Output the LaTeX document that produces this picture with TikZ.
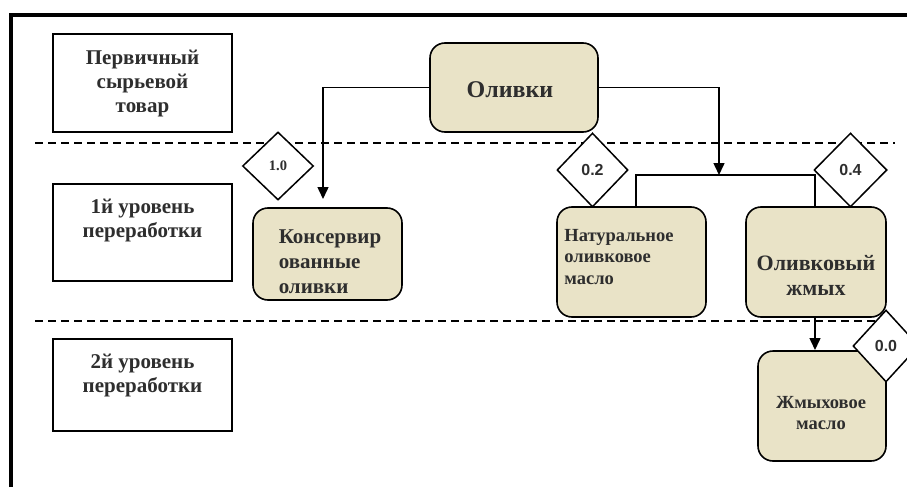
\documentclass[tikz,border=0pt]{standalone}
\usepackage{fontspec}
\setmainfont{Liberation Serif}
\newfontfamily\arialf{Liberation Sans}
\usetikzlibrary{shapes.geometric,arrows.meta}
\definecolor{beige}{HTML}{E9E3C7}
\definecolor{txt}{HTML}{2E2E2E}
\tikzset{
  lblbox/.style={draw=black, line width=1.5pt, fill=white, inner sep=0pt},
  prodbox/.style={draw=black, line width=1.6pt, fill=beige, rounded corners=15pt, inner sep=0pt},
  lbltext/.style={text=txt, font=\bfseries\fontsize{21}{24}\selectfont, align=center, inner sep=0pt},
  dia/.style={draw=black, line width=1.5pt, fill=white, shape=diamond, inner sep=0pt},
  conn/.style={draw=black, line width=1.5pt},
  arr/.style={conn, -{Triangle[width=11pt,length=12pt]}},
  sep/.style={draw=black, line width=2pt, dash pattern=on 8pt off 5pt},
}
\begin{document}
\begin{tikzpicture}[x=1pt,y=-1pt]
\useasboundingbox (0,0) rectangle (907,487);
% outer frame
\draw[line width=4pt] (11,487) -- (11,15) -- (907,15);
% separators
\draw[sep] (35,143) -- (895,143);
\draw[sep] (35,321) -- (880,321);
% level label boxes
\node[lblbox, minimum width=179pt, minimum height=98pt] (b1) at (142.5,83) {};
\node[lbltext] (t1) at (142.5,84) {Первичный\\сырьевой\\товар};
\node[lblbox, minimum width=179pt, minimum height=97pt] (b2) at (142.5,232.5) {};
\node[lbltext] (t2) at (142.5,221) {1й уровень\\переработки};
\node[lblbox, minimum width=179pt, minimum height=92pt] (b3) at (142.5,385) {};
\node[lbltext] (t3) at (142.5,376) {2й уровень\\переработки};
% product boxes
\node[prodbox, minimum width=168pt, minimum height=89pt] (ol) at (514,87.5) {};
\node[text=txt, font=\bfseries\fontsize{24}{28}\selectfont, inner sep=0pt] (olt) at (510,90) {Оливки};
\node[prodbox, minimum width=149pt, minimum height=92pt] (kons) at (327.5,254) {};
\node[text=txt, font=\bfseries\fontsize{21}{25}\selectfont, align=left, inner sep=0pt] (konst) at (330,262) {Консервир\\ованные\\оливки};
\node[prodbox, minimum width=149pt, minimum height=110pt] (nat) at (631.5,262) {};
\node[text=txt, font=\bfseries\fontsize{18.5}{21.5}\selectfont, align=left, inner sep=0pt] (natt) at (619,257) {Натуральное\\оливковое\\масло};
\node[prodbox, minimum width=140pt, minimum height=110pt] (zh) at (816,262) {};
\node[text=txt, font=\bfseries\fontsize{22}{25}\selectfont, align=center, inner sep=0pt] (zht) at (816,275) {Оливковый\\жмых};
\node[prodbox, minimum width=128pt, minimum height=110pt] (zm) at (822,406) {};
\node[text=txt, font=\bfseries\fontsize{18.5}{21.5}\selectfont, align=center, inner sep=0pt] (zmt) at (821,413) {Жмыховое\\масло};
% connectors
\coordinate (k1) at (323,199);
\draw[arr] (ol.west) -| (k1);
\coordinate (j) at (719,175);
\draw[arr] (ol.east) -| (j);
\coordinate (j1) at (636,175);
\coordinate (j2) at (815,175);
\draw[conn] (j1 |- nat.north) -- (j1) -- (j2) -- (j2 |- zh.north);
\coordinate (m1) at (815,350);
\draw[arr] (m1 |- zh.south) -- (m1);
% coefficient diamonds
\node[dia, minimum width=71pt, minimum height=68pt, text=txt, font=\bfseries\fontsize{14.5}{16}\selectfont] (d1) at (278,166) {1.0};
\node[dia, minimum width=71pt, minimum height=74pt, text=txt, font=\arialf\bfseries\fontsize{16}{18}\selectfont] (d2) at (592.5,170) {0.2};
\node[dia, minimum width=73pt, minimum height=74pt, text=txt, font=\arialf\bfseries\fontsize{16}{18}\selectfont] (d3) at (850.5,170) {0.4};
\node[dia, minimum width=66pt, minimum height=72pt, text=txt, font=\arialf\bfseries\fontsize{16}{18}\selectfont] (d4) at (886,346) {0.0};
\end{tikzpicture}
\end{document}
